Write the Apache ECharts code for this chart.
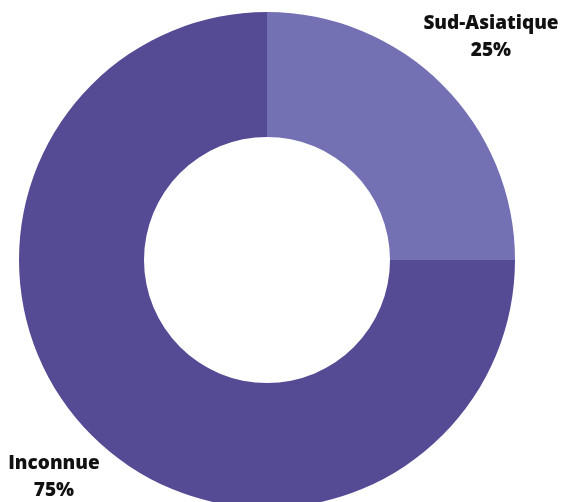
<!DOCTYPE html>
<html>
<head>
<meta charset="utf-8">
<script src="https://cdn.jsdelivr.net/npm/echarts@6/dist/echarts.min.js"></script>
<style>
  html, body { margin: 0; padding: 0; background: #fff; }
</style>
</head>
<body>
<div id="chart-container" style="width: 562px; height: 502px"></div>
<script>
// categories and shares (%)
const categories = ["Sud-Asiatique", "Inconnue"];
const values = [25, 75];
const colors = ["#7370b3", "#554a94"];
// where each label sits (text center x, top y)
const labelSpots = [[491, 10], [54, 450]];

const chart = echarts.init(document.getElementById("chart-container"));

const option = {
  animation: false,
  color: colors,
  series: [
    {
      type: "pie",
      center: [267, 260],
      radius: [123, 248],
      startAngle: 90,
      clockwise: true,
      label: { show: false },
      labelLine: { show: false },
      emphasis: { disabled: true },
      data: categories.map((name, i) => ({ name: name, value: values[i] })),
    },
  ],
  graphic: categories.map((name, i) => ({
    type: "text",
    x: labelSpots[i][0],
    y: labelSpots[i][1],
    style: {
      text: name + "\n" + values[i] + "%",
      fontFamily: "Open Sans",
      fontWeight: 800,
      fontSize: 19,
      lineHeight: 27,
      fill: "#111",
      align: "center",
      verticalAlign: "top",
    },
  })),
};

chart.setOption(option);
</script>
</body>
</html>
